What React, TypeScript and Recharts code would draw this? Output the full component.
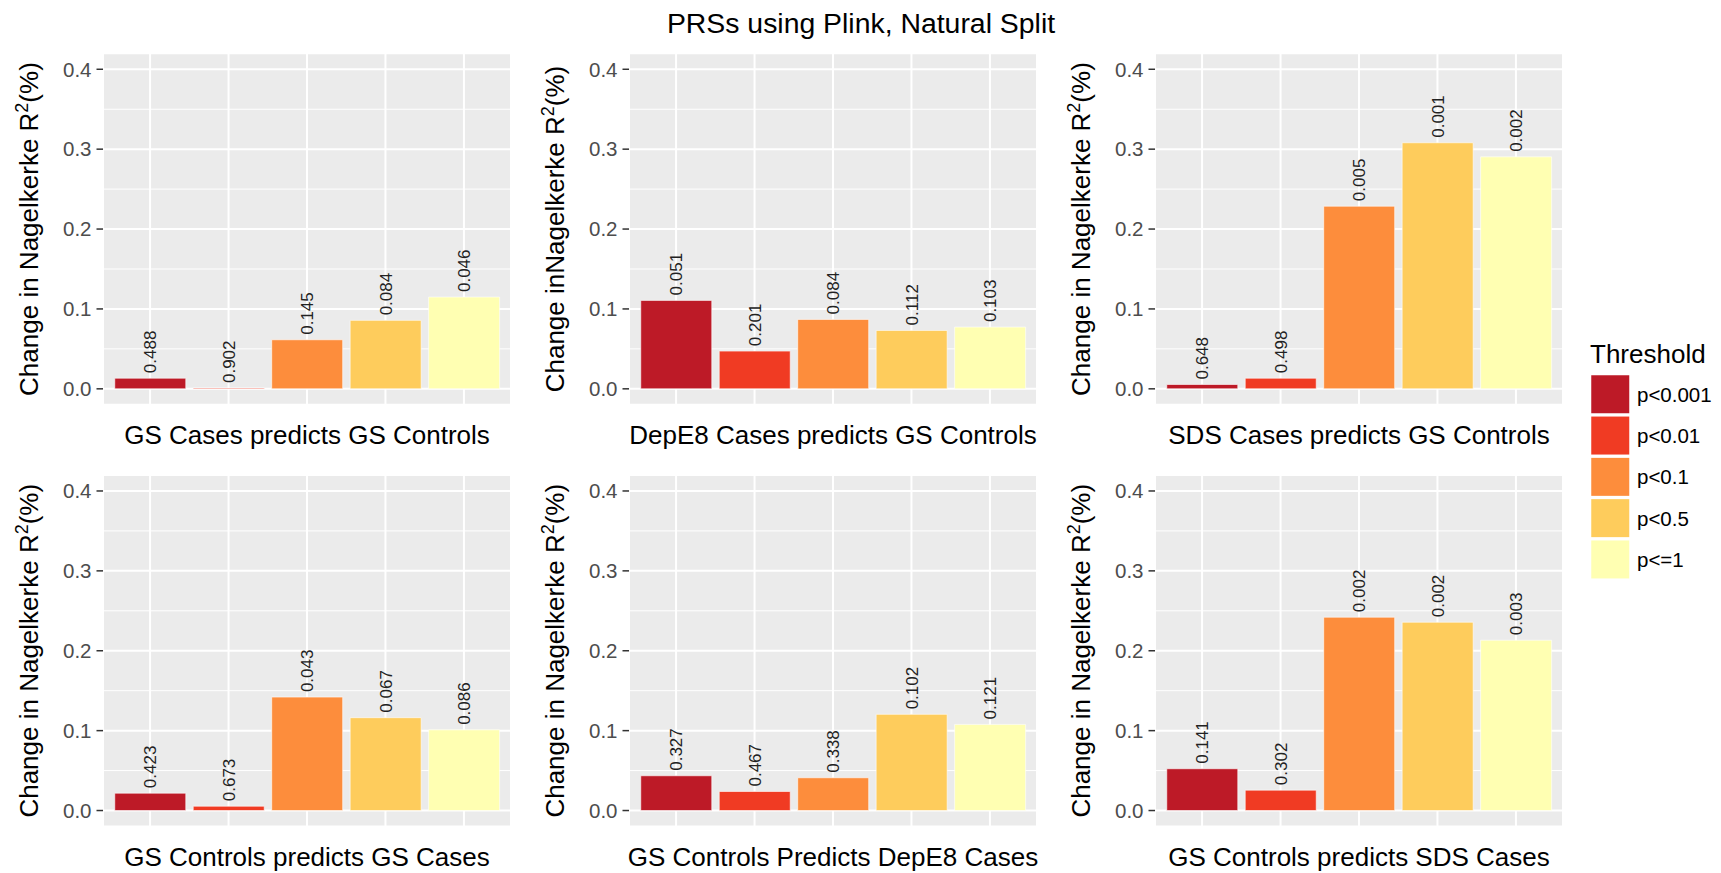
import React from 'react';
import { BarChart, Bar, XAxis, YAxis, CartesianGrid, LabelList, Cell } from 'recharts';

const thresholds = ['p<0.001', 'p<0.01', 'p<0.1', 'p<0.5', 'p<=1'];
const thresholdColors = ['#BD1A27', '#F03B23', '#FD8D3C', '#FECC5C', '#FFFFB2'];
const yTicks = [0, 0.1, 0.2, 0.3, 0.4];
const yMinorTicks = [0.05, 0.15, 0.25, 0.35];

// change in Nagelkerke R2 per threshold, and the p value printed above each bar
const gsCasesGsControlsR2 = [0.0133, 0.001, 0.0614, 0.0857, 0.1149];
const gsCasesGsControlsP = ['0.488', '0.902', '0.145', '0.084', '0.046'];

const depE8CasesGsControlsR2 = [0.1107, 0.0472, 0.0869, 0.0731, 0.0773];
const depE8CasesGsControlsP = ['0.051', '0.201', '0.084', '0.112', '0.103'];

const sdsCasesGsControlsR2 = [0.0054, 0.0133, 0.2286, 0.308, 0.2904];
const sdsCasesGsControlsP = ['0.648', '0.498', '0.005', '0.001', '0.002'];

const gsControlsGsCasesR2 = [0.0217, 0.0054, 0.142, 0.1162, 0.101];
const gsControlsGsCasesP = ['0.423', '0.673', '0.043', '0.067', '0.086'];

const gsControlsDepE8CasesR2 = [0.0435, 0.0238, 0.041, 0.1204, 0.1078];
const gsControlsDepE8CasesP = ['0.327', '0.467', '0.338', '0.102', '0.121'];

const gsControlsSdsCasesR2 = [0.0523, 0.0255, 0.242, 0.2357, 0.2132];
const gsControlsSdsCasesP = ['0.141', '0.302', '0.002', '0.002', '0.003'];

const panels = [
  { xLabel: 'GS Cases predicts GS Controls', yLabel: 'Change in Nagelkerke R', r2: gsCasesGsControlsR2, p: gsCasesGsControlsP },
  { xLabel: 'DepE8 Cases predicts GS Controls', yLabel: 'Change inNagelkerke R', r2: depE8CasesGsControlsR2, p: depE8CasesGsControlsP },
  { xLabel: 'SDS Cases predicts GS Controls', yLabel: 'Change in Nagelkerke R', r2: sdsCasesGsControlsR2, p: sdsCasesGsControlsP },
  { xLabel: 'GS Controls predicts GS Cases', yLabel: 'Change in Nagelkerke R', r2: gsControlsGsCasesR2, p: gsControlsGsCasesP },
  { xLabel: 'GS Controls Predicts DepE8 Cases', yLabel: 'Change in Nagelkerke R', r2: gsControlsDepE8CasesR2, p: gsControlsDepE8CasesP },
  { xLabel: 'GS Controls predicts SDS Cases', yLabel: 'Change in Nagelkerke R', r2: gsControlsSdsCasesR2, p: gsControlsSdsCasesP },
];

const FONT = '"Liberation Sans", Arial, Helvetica, sans-serif';
const PLOT_W = 408;
const PLOT_H = 351.5;
const Y_AXIS_W = 60;
const X_AXIS_H = 44;
const LEFT_SPACE = 103;
const CHART_W = 523;
const COL_LEFT = [0, 526, 1052];
const ROW_TOP = [0, 455];
const ROW_H = [460, 418];
const ROW_MARGIN_TOP = [53.3, 20];
const BAND_PAD = PLOT_W / 5.2 * 0.1;

const YTitle = (props: any) => {
  const vb = props.viewBox || { x: 0, y: 0, width: 0, height: 0 };
  const cx = vb.x + vb.width - 65;
  const cy = vb.y + vb.height / 2;
  return (
    <text x={cx} y={cy} transform={`rotate(-90, ${cx}, ${cy})`} textAnchor="middle"
      fontSize={26} fontFamily={FONT} fill="#000">
      {props.text}
      <tspan dy={-10} fontSize={18}>2</tspan>
      <tspan dy={10}>(%)</tspan>
    </text>
  );
};

const XTitle = (props: any) => {
  const vb = props.viewBox || { x: 0, y: 0, width: 0, height: 0 };
  return (
    <text x={vb.x + vb.width / 2} y={vb.y + 39} textAnchor="middle" fontSize={26} fontFamily={FONT} fill="#000">
      {props.text}
    </text>
  );
};

const NoTick = () => <g />;

const BarValueLabel = (props: any) => {
  const x = Number(props.x);
  const y = Number(props.y);
  const w = Number(props.width);
  const cx = x + w / 2 + 0.5;
  const ty = y - 5;
  return (
    <text x={cx} y={ty} transform={`rotate(-90, ${cx}, ${ty})`} textAnchor="start" dominantBaseline="central"
      fontSize={17} fontFamily={FONT} fill="#222">
      {props.value}
    </text>
  );
};

const Panel = ({ index }: { index: number }) => {
  const panel = panels[index];
  const row = Math.floor(index / 3);
  const col = index % 3;
  const data = thresholds.map((t, i) => ({ threshold: t, r2: panel.r2[i], p: panel.p[i] }));
  const height = ROW_H[row];
  const top = ROW_MARGIN_TOP[row];
  return (
    <div style={{ position: 'absolute', left: COL_LEFT[col], top: ROW_TOP[row] }}>
      <BarChart
        width={CHART_W}
        height={height}
        data={data}
        barCategoryGap="5%"
        margin={{
          top,
          right: CHART_W - LEFT_SPACE - PLOT_W,
          bottom: height - top - PLOT_H - X_AXIS_H,
          left: LEFT_SPACE - Y_AXIS_W,
        }}
      >
        <CartesianGrid fill="#EBEBEB" fillOpacity={1} stroke="#FFFFFF" strokeWidth={1} vertical={false}
          horizontalValues={yMinorTicks} />
        <CartesianGrid stroke="#FFFFFF" strokeWidth={2} />
        <XAxis dataKey="threshold" type="category" tick={NoTick} tickLine={false} axisLine={false} height={X_AXIS_H}
          padding={{ left: BAND_PAD, right: BAND_PAD }} label={<XTitle text={panel.xLabel} />} />
        <YAxis type="number" domain={[-0.02, 0.42]} ticks={yTicks} allowDataOverflow width={Y_AXIS_W}
          tickFormatter={(v: number) => v.toFixed(1)} axisLine={false} tickSize={6.5} tickMargin={5}
          tick={{ fill: '#4D4D4D', fontSize: 20.5, fontFamily: FONT }}
          tickLine={{ stroke: '#333333', strokeWidth: 1.5 }}
          label={<YTitle text={panel.yLabel} />} />
        <Bar dataKey="r2" isAnimationActive={false} stroke="#FFFFFF" strokeWidth={0.6}>
          {data.map((d, i) => (
            <Cell key={d.threshold} fill={thresholdColors[i]} />
          ))}
          <LabelList dataKey="p" content={BarValueLabel} />
        </Bar>
      </BarChart>
    </div>
  );
};

export default function App() {
  return (
    <div style={{ position: 'absolute', left: 0, top: 0, width: 1721, height: 873, background: '#FFFFFF', overflow: 'hidden' }}>
      {panels.map((p, i) => (
        <Panel key={p.xLabel} index={i} />
      ))}
      <svg width={1721} height={873} style={{ position: 'absolute', left: 0, top: 0, pointerEvents: 'none' }}>
        <text x={861} y={33} textAnchor="middle" fontSize={28.4} fontFamily={FONT} fill="#000">
          PRSs using Plink, Natural Split
        </text>
        <text x={1590} y={363} fontSize={26} fontFamily={FONT} fill="#000">Threshold</text>
        {thresholds.map((t, i) => (
          <g key={t}>
            <rect x={1590.5} y={374.5 + i * 41.3} width={39.5} height={39.5} fill={thresholdColors[i]}
              stroke="#FFFFFF" strokeWidth={1.5} />
            <text x={1637} y={394.3 + i * 41.3 + 7.3} fontSize={20.5} fontFamily={FONT} fill="#000">{t}</text>
          </g>
        ))}
      </svg>
    </div>
  );
}
